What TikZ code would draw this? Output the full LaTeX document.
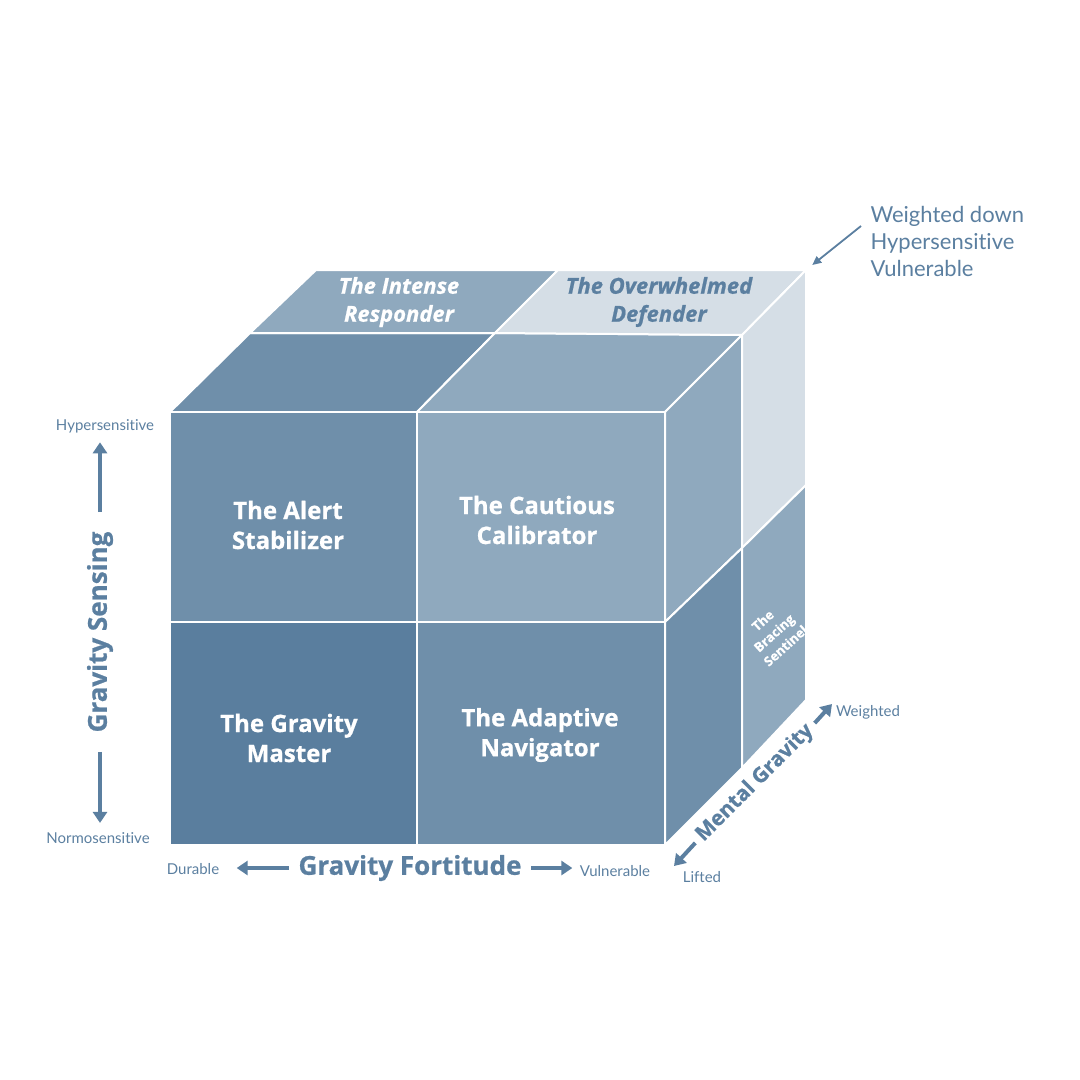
\documentclass[tikz,border=0pt]{standalone}
\usepackage{fontspec}
\setmainfont{Open Sans}[BoldFeatures={FakeBold=0.8},BoldItalicFeatures={FakeBold=0.8}]
\newfontfamily\thinfont{Lato}[Ligatures=NoCommon]
\usetikzlibrary{arrows.meta}
\definecolor{cubedark}{HTML}{5A7E9E}
\definecolor{cubemid}{HTML}{6F8FAA}
\definecolor{cubelight}{HTML}{8FA9BE}
\definecolor{cubepale}{HTML}{D5DEE6}
\definecolor{axisblue}{HTML}{5B7FA0}

\begin{document}
\begin{tikzpicture}[
  x=1pt,y=-1pt,
  face/.style={draw=white,line width=2pt,line join=round},
  cell/.style={text=white,font=\bfseries\fontsize{24}{30}\selectfont,align=center},
  topcell/.style={font=\bfseries\itshape\fontsize{22}{28}\selectfont,align=center},
  axis/.style={text=axisblue,font=\bfseries\fontsize{26}{30}\selectfont},
  pole/.style={text=axisblue,font=\thinfont\fontsize{15}{18}\selectfont},
  axarr/.style={-{Triangle[length=11pt,width=14pt]},line width=4pt,axisblue},
  callarr/.style={-{Triangle[length=9pt,width=8pt]},line width=1.8pt,axisblue}
]
  \useasboundingbox (0,0) rectangle (1080,1080);

  % corners of the cube
  \coordinate (f11) at (170,412); \coordinate (f12) at (417,412); \coordinate (f13) at (665,412);
  \coordinate (f21) at (170,622); \coordinate (f22) at (417,622); \coordinate (f23) at (665,622);
  \coordinate (f31) at (170,845); \coordinate (f32) at (417,845); \coordinate (f33) at (665,845);
  \coordinate (m11) at (250,333); \coordinate (m12) at (495,333); \coordinate (m13) at (742,335);
  \coordinate (m23) at (742,548); \coordinate (m33) at (742,768);
  \coordinate (b11) at (316,270); \coordinate (b12) at (558,270); \coordinate (b13) at (806,270);
  \coordinate (b23) at (806,485); \coordinate (b33) at (806,700);

  % top
  \draw[face,fill=cubemid] (f11) -- (f12) -- (m12) -- (m11) -- cycle;
  \draw[face,fill=cubelight] (f12) -- (f13) -- (m13) -- (m12) -- cycle;
  \draw[face,fill=cubelight] (m11) -- (m12) -- (b12) -- (b11) -- cycle;
  \draw[face,fill=cubepale] (m12) -- (m13) -- (b13) -- (b12) -- cycle;
  % side
  \draw[face,fill=cubelight] (f13) -- (m13) -- (m23) -- (f23) -- cycle;
  \draw[face,fill=cubepale] (m13) -- (b13) -- (b23) -- (m23) -- cycle;
  \draw[face,fill=cubemid] (f23) -- (m23) -- (m33) -- (f33) -- cycle;
  \draw[face,fill=cubelight] (m23) -- (b23) -- (b33) -- (m33) -- cycle;
  % front
  \draw[face,fill=cubemid] (f11) rectangle (f22);
  \draw[face,fill=cubelight] (f12) rectangle (f23);
  \draw[face,fill=cubedark] (f21) rectangle (f32);
  \draw[face,fill=cubemid] (f22) rectangle (f33);

  \node[cell] (alert) at (288,525) {The Alert\\Stabilizer};
  \node[cell] (cautious) at (537,520) {The Cautious\\Calibrator};
  \node[cell] (master) at (289,738) {The Gravity\\Master};
  \node[cell] (adaptive) at (540,735) {The Adaptive\\Navigator};
  \node[topcell,text=white] (intense) at (399,302) {The Intense\\Responder};
  \node[topcell,text=axisblue] (overwhelmed) at (659,302) {The Overwhelmed\\Defender};
  \node[text=white,font=\bfseries\fontsize{13}{17}\selectfont,align=center,rotate=42] (bracing) at (774,633) {The\\Bracing\\Sentinel};

  % axes
  \node[axis,rotate=90] (sensing) at (100,632) {Gravity Sensing};
  \node[pole] (hyper) at (105,426) {Hypersensitive};
  \node[pole] (normo) at (98,838) {Normosensitive};
  \draw[axarr,shorten <=16pt,shorten >=6pt] (sensing.east) -- (sensing.east |- hyper.south);
  \draw[axarr,shorten <=16pt,shorten >=6pt] (sensing.west) -- (sensing.west |- normo.north);

  \node[axis] (fortitude) at (410,868) {Gravity Fortitude};
  \node[pole] (durable) at (193,869) {Durable};
  \node[pole] (vulner) at (615,871) {Vulnerable};
  \draw[axarr,shorten <=6pt,shorten >=14pt] (fortitude.west) -- (fortitude.west -| durable.east);
  \draw[axarr,shorten <=6pt,shorten >=4pt] (fortitude.east) -- (fortitude.east -| vulner.west);

  \node[axis,font=\bfseries\fontsize{21}{24}\selectfont,rotate=45] (mental) at (755,783) {Mental Gravity};
  \node[pole] (lifted) at (702,877) {Lifted};
  \node[pole] (weighted) at (868,712) {Weighted};
  \coordinate (liftend) at (674,866);
  \coordinate (weightend) at (832,704);
  \draw[axarr,shorten <=3pt] (mental.west) -- (liftend);
  \draw[axarr,shorten <=3pt] (mental.east) -- (weightend);

  \node[text=axisblue,font=\thinfont\fontsize{22}{27}\selectfont,align=left,anchor=west] (corner) at (867,241) {Weighted down\\Hypersensitive\\Vulnerable};
  \draw[callarr,shorten >=8pt] ([shift={(-6,-15)}]corner.west) -- (b13);
\end{tikzpicture}
\end{document}
